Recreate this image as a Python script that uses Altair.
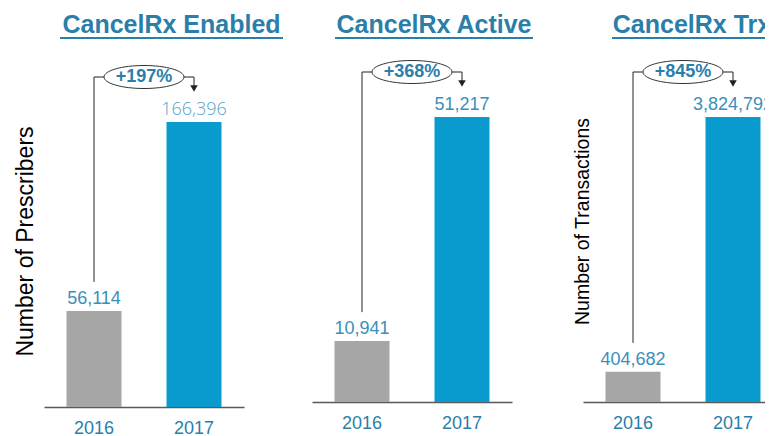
import altair as alt
import pandas as pd

# ---- data ----
years = ["2016", "2017"]
panel_titles = ["CancelRx Enabled", "CancelRx Active", "CancelRx Trx"]
axis_titles = ["Number of Prescribers", "", "Number of Transactions"]
enabled_values = [56114, 166396]
active_values = [10941, 51217]
trx_values = [404682, 3824792]
growth_labels = ["+197%", "+368%", "+845%"]

# ---- style / layout (chart pixels; the chart origin sits at the page's 8px margin) ----
FONT = "Liberation Sans"
TEAL = "#2a7eaa"
LABEL = "#3a8fbb"
GRAY = "#a6a6a6"
BLUE = "#0a9bce"
LINE = "#222222"
CW, CH = 757, 428
X_RANGES = [[36, 236], [304, 504], [575, 775]]
BASELINES = [399, 394, 394]
BAR_PX = 285
TITLE_DX = [27.5, 22, 9]
TITLE_W = [223, 198, 160]
YT_SIZE = [23, 0, 19.5]
YT_X = [24, 0, 580]
YT_Y = [233, 0, 213]
ELLIPSE = ("M -1 0 C -1 -0.1588 -0.5523 -0.2875 0 -0.2875 "
           "C 0.5523 -0.2875 1 -0.1588 1 0 C 1 0.1588 0.5523 0.2875 0 0.2875 "
           "C -0.5523 0.2875 -1 0.1588 -1 0 Z")


def panel(k, values):
    df = pd.DataFrame({
        "year": years,
        "value": values,
        "label": [f"{v:,}" for v in values],
        "growth": [growth_labels[k]] * len(values),
    })
    x0, x1 = X_RANGES[k]
    mid = (x0 + x1) / 2
    base_y = BASELINES[k]
    xs = alt.Scale(domain=years, range=X_RANGES[k], paddingInner=0.45, paddingOuter=0.225)
    xa = alt.Axis(title=None, orient="bottom", offset=base_y - CH, labelAngle=0,
                  labelFont=FONT, labelFontSize=18, labelColor=TEAL,
                  domainColor="#595959", domainWidth=1.5, ticks=False, tickSize=0,
                  labelPadding=12, grid=False)
    x = alt.X("year:N", scale=xs, axis=xa)
    ys = alt.Scale(domain=[0, max(values)], range=[base_y, base_y - BAR_PX], nice=False, zero=True)
    if axis_titles[k]:
        ya = alt.Axis(title=axis_titles[k], orient="left", domain=False, labels=False,
                      ticks=False, grid=False, titleFont=FONT, titleFontSize=YT_SIZE[k],
                      titleFontWeight="normal", titleColor="black",
                      titleAngle=270, titleX=YT_X[k], titleY=YT_Y[k],
                      titleBaseline="alphabetic", titleAlign="center")
    else:
        ya = None

    def Y(field):
        return alt.Y(field, scale=ys, axis=ya)

    base = alt.Chart(df).transform_joinaggregate(vmax="max(value)")
    first = base.transform_filter(alt.datum.year == years[0])
    last = base.transform_filter(alt.datum.year == years[-1])

    bars = base.mark_bar().encode(
        x=x, y=Y("value:Q"),
        color=alt.Color("year:N", scale=alt.Scale(domain=years, range=[GRAY, BLUE]), legend=None),
    )
    lab1 = first.mark_text(font=FONT, fontSize=18, color=LABEL, baseline="alphabetic",
                           dy=-7).encode(x=x, y=Y("value:Q"), text="label:N")
    if k == 0:
        lab2 = last.mark_text(font="Open Sans", fontWeight=300, fontSize=18, color="#56a5c9",
                              baseline="alphabetic", dy=-7).encode(x=x, y=Y("value:Q"), text="label:N")
    else:
        lab2 = last.mark_text(font=FONT, fontSize=18, color=LABEL, baseline="alphabetic",
                              dy=-7).encode(x=x, y=Y("value:Q"), text="label:N")
    hline = base.mark_line(color=LINE, strokeWidth=1, yOffset=-45).encode(x=x, y=Y("vmax:Q"))
    lvert = first.mark_rule(color=LINE, strokeWidth=1, yOffset=-29, y2Offset=-45).encode(
        x=x, y=Y("value:Q"), y2="vmax:Q")
    rvert = last.mark_rule(color=LINE, strokeWidth=1, yOffset=-35, y2Offset=-45).encode(
        x=x, y=Y("value:Q"), y2="vmax:Q")
    arrow = last.mark_point(shape="triangle-down", filled=True, size=56, color=LINE,
                            opacity=1, yOffset=-33.5).encode(x=x, y=Y("value:Q"))
    ell = last.mark_point(shape=ELLIPSE, size=6400, fill="white", stroke="#333333",
                          strokeWidth=1, opacity=1, fillOpacity=1, yOffset=-45).encode(
        x=alt.value(mid), y=Y("vmax:Q"))
    pct = last.mark_text(font=FONT, fontSize=18, fontWeight="bold", color=TEAL,
                         baseline="middle", align="center", yOffset=-45).encode(
        x=alt.value(mid), y=Y("vmax:Q"), text="growth:N")
    cx = mid + TITLE_DX[k]
    title = last.mark_text(font=FONT, fontSize=25, fontWeight="bold", color=TEAL,
                           align="center", baseline="alphabetic").encode(
        x=alt.value(cx), y=alt.value(25), text=alt.value(panel_titles[k]))
    underline = last.mark_rule(color=TEAL, strokeWidth=2).encode(
        x=alt.value(cx - TITLE_W[k] / 2), x2=alt.value(cx + TITLE_W[k] / 2), y=alt.value(30))

    return alt.layer(bars, hline, lvert, rvert, arrow, ell, pct, lab1, lab2, title, underline)


chart = alt.layer(
    panel(0, enabled_values), panel(1, active_values), panel(2, trx_values),
).resolve_scale(x="independent", y="independent").configure_view(stroke=None).properties(
    width=CW, height=CH, autosize=alt.AutoSizeParams(type="none"), padding=0,
)

chart.save("out.html", embed_options={"renderer": "svg", "actions": False})
